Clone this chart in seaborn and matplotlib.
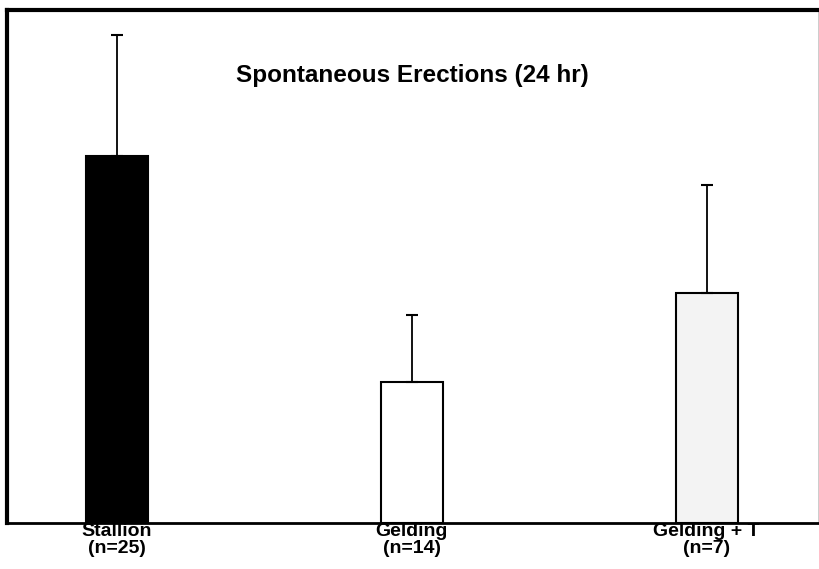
import matplotlib
matplotlib.use("Agg")
import matplotlib.pyplot as plt
import seaborn as sns
import pandas as pd

# values (arbitrary units, no y scale shown)
groups = ["Stallion\n(n=25)", "Gelding\n(n=14)", "Gelding + T\n(n=7)"]
means = [7.34, 2.82, 4.60]
errors = [2.42, 1.34, 2.16]
bar_colors = ["#000000", "#ffffff", "#f3f3f3"]

sns.set_style("white")
plt.rcParams['font.family'] = ['Liberation Sans', 'DejaVu Sans']
plt.rcParams['text.color'] = 'black'
plt.rcParams['xtick.color'] = 'black'

df = pd.DataFrame({"group": groups, "mean": means})

fig = plt.figure(figsize=(8.2, 5.69), dpi=100)
ax = fig.add_axes([0.0085, 0.0808, 0.990, 0.9016])

sns.barplot(data=df, x="group", y="mean", hue="group", palette=bar_colors,
            legend=False, width=0.21, edgecolor="black", linewidth=1.5,
            saturation=1, ax=ax)

# upper-only error bars
ax.errorbar(range(len(means)), means, yerr=[[0] * len(errors), errors],
            fmt="none", ecolor="black", elinewidth=1.3, capsize=4, capthick=1.5)

ax.set_xlim(-0.373, 2.38)
ax.set_ylim(0, 10.26)
ax.set_xlabel("")
ax.set_ylabel("")
ax.set_yticks([])
ax.tick_params(axis="x", length=0, pad=0)
for lab in ax.get_xticklabels():
    lab.set_fontweight("bold")
    lab.set_fontsize(14)
    lab.set_linespacing(1.0)

for side in ["left", "top"]:
    ax.spines[side].set_linewidth(3)
ax.spines["bottom"].set_linewidth(2)
ax.spines["right"].set_linewidth(1)
for s in ax.spines.values():
    s.set_color("black")

ax.text(0.5, 0.872, "Spontaneous Erections (24 hr)", transform=ax.transAxes,
        ha="center", va="center", fontsize=17.5, fontweight="bold")

fig.savefig("out.png", dpi=100)
